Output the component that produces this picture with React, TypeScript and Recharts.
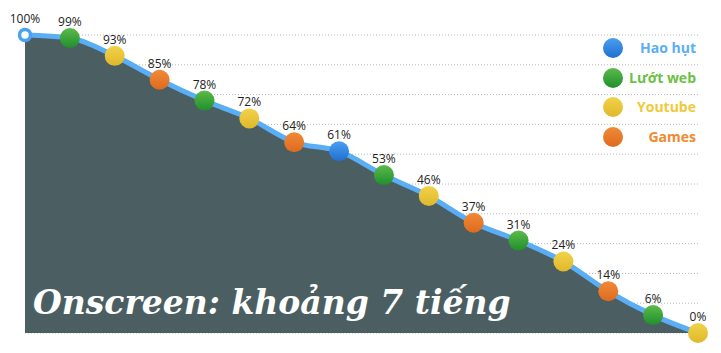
import React from "react";
import { ComposedChart, Area, Line, XAxis, YAxis, CartesianGrid, LabelList } from "recharts";

const steps = [0, 1, 2, 3, 4, 5, 6, 7, 8, 9, 10, 11, 12, 13, 14, 15];
const remaining = [100, 99, 93, 85, 78, 72, 64, 61, 53, 46, 37, 31, 24, 14, 6, 0];
const activity = [
  "start", "web", "youtube", "games", "web", "youtube", "games", "loss",
  "web", "youtube", "games", "web", "youtube", "games", "web", "youtube",
];

const legendKeys = ["loss", "web", "youtube", "games"];
const legendLabels = ["Hao hụt", "Lướt web", "Youtube", "Games"];

const dotColors: Record<string, [string, string]> = {
  loss: ["#4a9ff0", "#1f6fd0"],
  web: ["#5cba4a", "#1f8f2c"],
  youtube: ["#f1d24a", "#e0b82a"],
  games: ["#f08a38", "#de6a1e"],
};
const textColors: Record<string, string> = {
  loss: "#5aaef5",
  web: "#6cbf47",
  youtube: "#f0c93a",
  games: "#f08a30",
};

const data = steps.map((s, i) => ({ step: s, value: remaining[i], kind: activity[i] }));

function Dot(props: any) {
  const { cx, cy, index } = props;
  const kind = activity[index];
  if (kind === "start") {
    return <circle key={index} cx={cx} cy={cy} r={5.5} fill="#fff" stroke="#4aa3f2" strokeWidth={3.5} />;
  }
  return <circle key={index} cx={cx} cy={cy} r={10} fill={`url(#grad-${kind})`} />;
}

export default function App() {
  return (
    <div style={{ position: "absolute", left: 0, top: 0, width: 721, height: 353, background: "#fff" }}>
      <ComposedChart width={721} height={353} data={data} margin={{ top: 35, right: 23, left: 25, bottom: 20 }}>
        <defs>
          {legendKeys.map((k) => (
            <linearGradient key={k} id={`grad-${k}`} x1="0" y1="0" x2="0" y2="1">
              <stop offset="0%" stopColor={dotColors[k][0]} />
              <stop offset="100%" stopColor={dotColors[k][1]} />
            </linearGradient>
          ))}
        </defs>
        <CartesianGrid vertical={false} stroke="#b8b8b8" strokeDasharray="1 2" />
        <XAxis
          dataKey="step"
          type="number"
          domain={[0, 15]}
          height={0}
          tick={false}
          tickLine={false}
          axisLine={{ stroke: "#9aa6a8", strokeWidth: 1.5 }}
        />
        <YAxis hide domain={[0, 100]} ticks={[0, 10, 20, 30, 40, 50, 60, 70, 80, 90, 100]} />
        <Area
          type="monotone"
          dataKey="value"
          stroke="none"
          fill="#4b5f62"
          fillOpacity={1}
          isAnimationActive={false}
        />
        <Line
          type="monotone"
          dataKey="value"
          stroke="#5aaef5"
          strokeWidth={5}
          dot={<Dot />}
          activeDot={false}
          isAnimationActive={false}
        >
          <LabelList
            dataKey="value"
            position="top"
            offset={12}
            formatter={(v: any) => `${v}%`}
            style={{ fill: "#222", fontSize: 12, fontFamily: "'Open Sans', sans-serif" }}
          />
        </Line>
      </ComposedChart>
      <div
        style={{
          position: "absolute",
          left: 33,
          top: 281,
          color: "#fff",
          fontFamily: "'DejaVu Serif', serif",
          fontWeight: "bold",
          fontStyle: "italic",
          fontSize: 33,
          lineHeight: "44px",
          whiteSpace: "nowrap",
        }}
      >
        Onscreen: khoảng 7 tiếng
      </div>
      {legendKeys.map((k, i) => (
        <div key={k} style={{ position: "absolute", left: 600, top: 38 + i * 29.7, width: 96, height: 20 }}>
          <div
            style={{
              position: "absolute",
              left: 3,
              top: 0,
              width: 20,
              height: 20,
              borderRadius: 10,
              background: `linear-gradient(${dotColors[k][0]}, ${dotColors[k][1]})`,
            }}
          />
          <div
            style={{
              position: "absolute",
              right: 0,
              top: 0,
              lineHeight: "20px",
              color: textColors[k],
              fontFamily: "'Open Sans', sans-serif",
              fontWeight: "bold",
              fontSize: 14,
            }}
          >
            {legendLabels[i]}
          </div>
        </div>
      ))}
    </div>
  );
}
